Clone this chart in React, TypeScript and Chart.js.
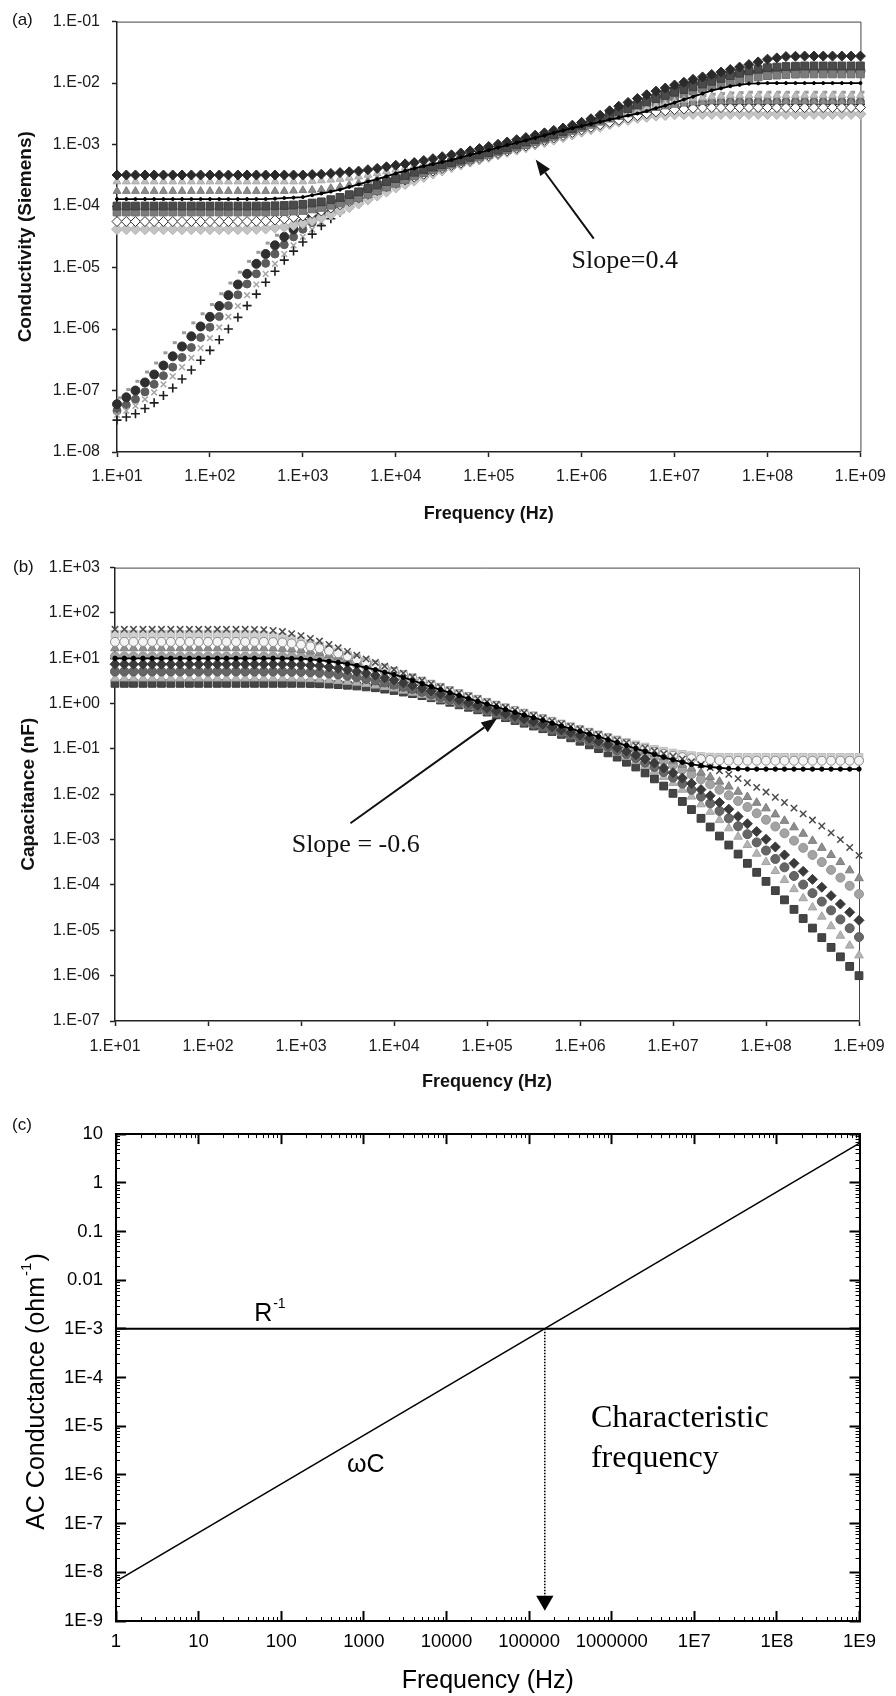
import React, { useEffect, useRef } from 'react';
import { Chart, registerables } from 'chart.js';

Chart.register(...registerables);

const SANS = "'Liberation Sans', Arial, Helvetica, sans-serif";
const SERIF = "'Liberation Serif', 'Times New Roman', Times, serif";

// ---------- shared frequency grid (Hz), panels (a) and (b): 10 points per decade ----------
const FREQ = [
  1e1, 1.26e1, 1.58e1, 2e1, 2.51e1, 3.16e1, 3.98e1, 5.01e1, 6.31e1, 7.94e1,
  1e2, 1.26e2, 1.58e2, 2e2, 2.51e2, 3.16e2, 3.98e2, 5.01e2, 6.31e2, 7.94e2,
  1e3, 1.26e3, 1.58e3, 2e3, 2.51e3, 3.16e3, 3.98e3, 5.01e3, 6.31e3, 7.94e3,
  1e4, 1.26e4, 1.58e4, 2e4, 2.51e4, 3.16e4, 3.98e4, 5.01e4, 6.31e4, 7.94e4,
  1e5, 1.26e5, 1.58e5, 2e5, 2.51e5, 3.16e5, 3.98e5, 5.01e5, 6.31e5, 7.94e5,
  1e6, 1.26e6, 1.58e6, 2e6, 2.51e6, 3.16e6, 3.98e6, 5.01e6, 6.31e6, 7.94e6,
  1e7, 1.26e7, 1.58e7, 2e7, 2.51e7, 3.16e7, 3.98e7, 5.01e7, 6.31e7, 7.94e7,
  1e8, 1.26e8, 1.58e8, 2e8, 2.51e8, 3.16e8, 3.98e8, 5.01e8, 6.31e8, 7.94e8,
  1e9,
];

// ---------- panel (a): conductivity (S) ----------
const A_X_TICKS = [1e1, 1e2, 1e3, 1e4, 1e5, 1e6, 1e7, 1e8, 1e9];
const A_X_LABELS = ['1.E+01', '1.E+02', '1.E+03', '1.E+04', '1.E+05', '1.E+06', '1.E+07', '1.E+08', '1.E+09'];
const A_Y_TICKS = [1e-8, 1e-7, 1e-6, 1e-5, 1e-4, 1e-3, 1e-2, 1e-1];
const A_Y_LABELS = ['1.E-08', '1.E-07', '1.E-06', '1.E-05', '1.E-04', '1.E-03', '1.E-02', '1.E-01'];

const COND_U1 = [
  3.2e-4, 3.2e-4, 3.2e-4, 3.2e-4, 3.2e-4, 3.2e-4, 3.2e-4, 3.2e-4, 3.2e-4, 3.2e-4,
  3.2e-4, 3.2e-4, 3.2e-4, 3.2e-4, 3.2e-4, 3.2e-4, 3.2e-4, 3.2e-4, 3.2e-4, 3.2e-4,
  3.2e-4, 3.25e-4, 3.3e-4, 3.4e-4, 3.5e-4, 3.6e-4, 3.7e-4, 3.9e-4, 4.1e-4, 4.35e-4,
  4.6e-4, 4.85e-4, 5.1e-4, 5.5e-4, 5.9e-4, 6.35e-4, 6.8e-4, 7.3e-4, 7.9e-4, 8.6e-4,
  9.3e-4, 1.01e-3, 1.1e-3, 1.2e-3, 1.3e-3, 1.42e-3, 1.55e-3, 1.7e-3, 1.86e-3, 2.07e-3,
  2.3e-3, 2.63e-3, 3.0e-3, 3.55e-3, 4.2e-3, 4.85e-3, 5.6e-3, 6.45e-3, 7.4e-3, 8.3e-3,
  9.3e-3, 1.03e-2, 1.15e-2, 1.26e-2, 1.38e-2, 1.51e-2, 1.66e-2, 1.82e-2, 2.0e-2, 2.21e-2,
  2.45e-2, 2.57e-2, 2.7e-2, 2.73e-2, 2.75e-2, 2.75e-2, 2.75e-2, 2.75e-2, 2.75e-2, 2.75e-2,
  2.75e-2,
];
const COND_U2 = [
  2.5e-4, 2.5e-4, 2.5e-4, 2.5e-4, 2.5e-4, 2.5e-4, 2.5e-4, 2.5e-4, 2.5e-4, 2.5e-4,
  2.5e-4, 2.5e-4, 2.5e-4, 2.5e-4, 2.5e-4, 2.5e-4, 2.5e-4, 2.5e-4, 2.5e-4, 2.5e-4,
  2.5e-4, 2.55e-4, 2.6e-4, 2.67e-4, 2.75e-4, 2.87e-4, 3.0e-4, 3.2e-4, 3.4e-4, 3.65e-4,
  3.9e-4, 4.2e-4, 4.5e-4, 4.85e-4, 5.2e-4, 5.7e-4, 6.2e-4, 6.7e-4, 7.2e-4, 7.8e-4,
  8.5e-4, 9.3e-4, 1.02e-3, 1.1e-3, 1.2e-3, 1.32e-3, 1.45e-3, 1.59e-3, 1.74e-3, 1.91e-3,
  2.1e-3, 2.3e-3, 2.5e-3, 2.75e-3, 3.0e-3, 3.3e-3, 3.6e-3, 3.95e-3, 4.3e-3, 4.65e-3,
  5.0e-3, 5.3e-3, 5.6e-3, 5.8e-3, 6.0e-3, 6.15e-3, 6.3e-3, 6.3e-3, 6.3e-3, 6.3e-3,
  6.3e-3, 6.3e-3, 6.3e-3, 6.3e-3, 6.3e-3, 6.3e-3, 6.3e-3, 6.3e-3, 6.3e-3, 6.3e-3,
  6.3e-3,
];
const COND_U3 = [
  1.75e-4, 1.75e-4, 1.75e-4, 1.75e-4, 1.75e-4, 1.75e-4, 1.75e-4, 1.75e-4, 1.75e-4, 1.75e-4,
  1.75e-4, 1.75e-4, 1.75e-4, 1.75e-4, 1.75e-4, 1.75e-4, 1.75e-4, 1.75e-4, 1.75e-4, 1.77e-4,
  1.8e-4, 1.82e-4, 1.85e-4, 1.95e-4, 2.05e-4, 2.2e-4, 2.35e-4, 2.55e-4, 2.75e-4, 3.0e-4,
  3.3e-4, 3.6e-4, 3.9e-4, 4.25e-4, 4.6e-4, 5.0e-4, 5.4e-4, 5.9e-4, 6.5e-4, 7.1e-4,
  7.8e-4, 8.5e-4, 9.3e-4, 1.02e-3, 1.12e-3, 1.23e-3, 1.35e-3, 1.48e-3, 1.62e-3, 1.78e-3,
  1.95e-3, 2.15e-3, 2.35e-3, 2.57e-3, 2.8e-3, 3.1e-3, 3.4e-3, 3.65e-3, 3.9e-3, 4.15e-3,
  4.4e-3, 4.6e-3, 4.8e-3, 4.9e-3, 5.0e-3, 5.0e-3, 5.0e-3, 5.0e-3, 5.0e-3, 5.0e-3,
  5.0e-3, 5.0e-3, 5.0e-3, 5.0e-3, 5.0e-3, 5.0e-3, 5.0e-3, 5.0e-3, 5.0e-3, 5.0e-3,
  5.0e-3,
];
const COND_U4 = [
  1.3e-4, 1.3e-4, 1.3e-4, 1.3e-4, 1.3e-4, 1.3e-4, 1.3e-4, 1.3e-4, 1.3e-4, 1.3e-4,
  1.3e-4, 1.3e-4, 1.3e-4, 1.3e-4, 1.3e-4, 1.3e-4, 1.3e-4, 1.32e-4, 1.35e-4, 1.37e-4,
  1.4e-4, 1.5e-4, 1.6e-4, 1.72e-4, 1.85e-4, 2.05e-4, 2.25e-4, 2.5e-4, 2.75e-4, 3.05e-4,
  3.4e-4, 3.75e-4, 4.1e-4, 4.45e-4, 4.8e-4, 5.2e-4, 5.6e-4, 6.2e-4, 6.8e-4, 7.4e-4,
  8.1e-4, 8.9e-4, 9.8e-4, 1.07e-3, 1.17e-3, 1.28e-3, 1.41e-3, 1.55e-3, 1.7e-3, 1.85e-3,
  2.0e-3, 2.17e-3, 2.35e-3, 2.55e-3, 2.75e-3, 2.97e-3, 3.2e-3, 3.5e-3, 3.9e-3, 4.3e-3,
  4.8e-3, 5.4e-3, 6.0e-3, 6.75e-3, 7.6e-3, 8.2e-3, 8.9e-3, 9.35e-3, 9.8e-3, 9.9e-3,
  1.0e-2, 1.0e-2, 1.0e-2, 1.0e-2, 1.0e-2, 1.0e-2, 1.0e-2, 1.0e-2, 1.0e-2, 1.0e-2,
  1.0e-2,
];
const COND_U5 = [
  1.0e-4, 1.0e-4, 1.0e-4, 1.0e-4, 1.0e-4, 1.0e-4, 1.0e-4, 1.0e-4, 1.0e-4, 1.0e-4,
  1.0e-4, 1.0e-4, 1.0e-4, 1.0e-4, 1.0e-4, 1.0e-4, 1.0e-4, 1.01e-4, 1.02e-4, 1.04e-4,
  1.07e-4, 1.12e-4, 1.17e-4, 1.27e-4, 1.38e-4, 1.53e-4, 1.7e-4, 1.93e-4, 2.2e-4, 2.5e-4,
  2.8e-4, 3.15e-4, 3.55e-4, 3.9e-4, 4.3e-4, 4.7e-4, 5.1e-4, 5.6e-4, 6.2e-4, 6.8e-4,
  7.4e-4, 8.1e-4, 8.9e-4, 9.9e-4, 1.1e-3, 1.2e-3, 1.32e-3, 1.46e-3, 1.62e-3, 1.82e-3,
  2.05e-3, 2.3e-3, 2.6e-3, 2.97e-3, 3.4e-3, 3.85e-3, 4.4e-3, 4.95e-3, 5.6e-3, 6.3e-3,
  7.1e-3, 7.85e-3, 8.7e-3, 9.65e-3, 1.07e-2, 1.19e-2, 1.32e-2, 1.45e-2, 1.58e-2, 1.68e-2,
  1.78e-2, 1.82e-2, 1.86e-2, 1.88e-2, 1.9e-2, 1.9e-2, 1.9e-2, 1.9e-2, 1.9e-2, 1.9e-2,
  1.9e-2,
];
const COND_U6 = [
  8.0e-5, 8.0e-5, 8.0e-5, 8.0e-5, 8.0e-5, 8.0e-5, 8.0e-5, 8.0e-5, 8.0e-5, 8.0e-5,
  8.0e-5, 8.0e-5, 8.0e-5, 8.0e-5, 8.0e-5, 8.0e-5, 8.0e-5, 8.05e-5, 8.1e-5, 8.3e-5,
  8.5e-5, 9.0e-5, 9.5e-5, 1.03e-4, 1.12e-4, 1.24e-4, 1.38e-4, 1.57e-4, 1.78e-4, 2.05e-4,
  2.35e-4, 2.7e-4, 3.1e-4, 3.5e-4, 3.9e-4, 4.3e-4, 4.8e-4, 5.25e-4, 5.75e-4, 6.3e-4,
  6.9e-4, 7.6e-4, 8.3e-4, 9.1e-4, 1.0e-3, 1.11e-3, 1.23e-3, 1.36e-3, 1.51e-3, 1.7e-3,
  1.9e-3, 2.13e-3, 2.4e-3, 2.7e-3, 3.0e-3, 3.4e-3, 3.8e-3, 4.3e-3, 4.8e-3, 5.4e-3,
  6.0e-3, 6.65e-3, 7.4e-3, 8.1e-3, 8.9e-3, 9.7e-3, 1.05e-2, 1.12e-2, 1.2e-2, 1.26e-2,
  1.32e-2, 1.35e-2, 1.38e-2, 1.4e-2, 1.41e-2, 1.41e-2, 1.41e-2, 1.41e-2, 1.41e-2, 1.41e-2,
  1.41e-2,
];
const COND_U7 = [
  5.6e-5, 5.6e-5, 5.6e-5, 5.6e-5, 5.6e-5, 5.6e-5, 5.6e-5, 5.6e-5, 5.6e-5, 5.6e-5,
  5.6e-5, 5.6e-5, 5.6e-5, 5.6e-5, 5.6e-5, 5.65e-5, 5.75e-5, 5.95e-5, 6.2e-5, 6.55e-5,
  6.9e-5, 7.6e-5, 8.3e-5, 9.3e-5, 1.05e-4, 1.19e-4, 1.35e-4, 1.55e-4, 1.78e-4, 2.05e-4,
  2.35e-4, 2.65e-4, 2.95e-4, 3.3e-4, 3.7e-4, 4.1e-4, 4.6e-4, 5.0e-4, 5.5e-4, 6.0e-4,
  6.6e-4, 7.2e-4, 7.9e-4, 8.7e-4, 9.5e-4, 1.05e-3, 1.17e-3, 1.28e-3, 1.41e-3, 1.57e-3,
  1.74e-3, 1.91e-3, 2.1e-3, 2.3e-3, 2.5e-3, 2.72e-3, 2.95e-3, 3.17e-3, 3.4e-3, 3.55e-3,
  3.7e-3, 3.8e-3, 3.9e-3, 3.95e-3, 4.0e-3, 4.0e-3, 4.0e-3, 4.0e-3, 4.0e-3, 4.0e-3,
  4.0e-3, 4.0e-3, 4.0e-3, 4.0e-3, 4.0e-3, 4.0e-3, 4.0e-3, 4.0e-3, 4.0e-3, 4.0e-3,
  4.0e-3,
];
const COND_U8 = [
  4.2e-5, 4.2e-5, 4.2e-5, 4.2e-5, 4.2e-5, 4.2e-5, 4.2e-5, 4.2e-5, 4.2e-5, 4.2e-5,
  4.2e-5, 4.2e-5, 4.2e-5, 4.2e-5, 4.2e-5, 4.25e-5, 4.3e-5, 4.45e-5, 4.6e-5, 4.9e-5,
  5.25e-5, 5.8e-5, 6.5e-5, 7.3e-5, 8.3e-5, 9.6e-5, 1.1e-4, 1.28e-4, 1.48e-4, 1.72e-4,
  2.0e-4, 2.28e-4, 2.6e-4, 2.97e-4, 3.4e-4, 3.8e-4, 4.3e-4, 4.75e-4, 5.25e-4, 5.75e-4,
  6.3e-4, 6.9e-4, 7.6e-4, 8.3e-4, 9.1e-4, 1.0e-3, 1.1e-3, 1.2e-3, 1.32e-3, 1.46e-3,
  1.62e-3, 1.78e-3, 1.95e-3, 2.14e-3, 2.35e-3, 2.52e-3, 2.7e-3, 2.82e-3, 2.95e-3, 3.02e-3,
  3.1e-3, 3.12e-3, 3.15e-3, 3.15e-3, 3.15e-3, 3.15e-3, 3.15e-3, 3.15e-3, 3.15e-3, 3.15e-3,
  3.15e-3, 3.15e-3, 3.15e-3, 3.15e-3, 3.15e-3, 3.15e-3, 3.15e-3, 3.15e-3, 3.15e-3, 3.15e-3,
  3.15e-3,
];
const COND_L1 = [
  7.6e-8, 1.04e-7, 1.41e-7, 2.0e-7, 2.8e-7, 4.1e-7, 6.0e-7, 8.7e-7, 1.26e-6, 1.77e-6,
  2.5e-6, 3.75e-6, 5.6e-6, 8.4e-6, 1.26e-5, 1.77e-5, 2.5e-5, 3.35e-5, 4.5e-5, 5.65e-5,
  7.1e-5, 8.6e-5, 1.05e-4, 1.23e-4, 1.45e-4, 1.66e-4, 1.9e-4, 2.14e-4, 2.4e-4, 2.7e-4,
  3.0e-4, 3.3e-4, 3.6e-4, 4.0e-4, 4.4e-4, 4.8e-4, 5.25e-4, 5.75e-4, 6.3e-4, 6.9e-4,
  7.6e-4, 8.3e-4, 9.1e-4, 1.0e-3, 1.1e-3, 1.2e-3, 1.32e-3, 1.45e-3, 1.58e-3, 1.73e-3,
  1.9e-3, 2.1e-3, 2.3e-3, 2.5e-3, 2.75e-3, 3.05e-3, 3.4e-3, 3.8e-3, 4.2e-3, 4.6e-3,
  5.0e-3, 5.45e-3, 5.9e-3, 6.25e-3, 6.6e-3, 6.75e-3, 6.9e-3, 7.0e-3, 7.1e-3, 7.1e-3,
  7.1e-3, 7.1e-3, 7.1e-3, 7.1e-3, 7.1e-3, 7.1e-3, 7.1e-3, 7.1e-3, 7.1e-3, 7.1e-3,
  7.1e-3,
];
const COND_L2 = [
  6.0e-8, 7.75e-8, 1.0e-7, 1.35e-7, 1.82e-7, 2.55e-7, 3.6e-7, 5.2e-7, 7.6e-7, 1.1e-6,
  1.58e-6, 2.37e-6, 3.55e-6, 5.3e-6, 7.9e-6, 1.15e-5, 1.66e-5, 2.3e-5, 3.16e-5, 4.15e-5,
  5.4e-5, 6.7e-5, 8.3e-5, 1.0e-4, 1.2e-4, 1.4e-4, 1.62e-4, 1.87e-4, 2.15e-4, 2.4e-4,
  2.7e-4, 3.0e-4, 3.3e-4, 3.7e-4, 4.1e-4, 4.5e-4, 5.0e-4, 5.5e-4, 6.0e-4, 6.6e-4,
  7.2e-4, 7.9e-4, 8.7e-4, 9.6e-4, 1.07e-3, 1.19e-3, 1.32e-3, 1.46e-3, 1.62e-3, 1.82e-3,
  2.05e-3, 2.3e-3, 2.6e-3, 3.0e-3, 3.5e-3, 4.0e-3, 4.6e-3, 5.25e-3, 6.0e-3, 6.85e-3,
  7.8e-3, 8.75e-3, 9.8e-3, 1.07e-2, 1.17e-2, 1.27e-2, 1.38e-2, 1.44e-2, 1.51e-2, 1.55e-2,
  1.58e-2, 1.58e-2, 1.58e-2, 1.58e-2, 1.58e-2, 1.58e-2, 1.58e-2, 1.58e-2, 1.58e-2, 1.58e-2,
  1.58e-2,
];
const COND_L3 = [
  4.7e-8, 5.8e-8, 7.2e-8, 9.5e-8, 1.26e-7, 1.74e-7, 2.4e-7, 3.45e-7, 5.0e-7, 7.3e-7,
  1.07e-6, 1.6e-6, 2.4e-6, 3.6e-6, 5.4e-6, 7.9e-6, 1.17e-5, 1.66e-5, 2.35e-5, 3.15e-5,
  4.2e-5, 5.35e-5, 6.8e-5, 8.3e-5, 1.02e-4, 1.22e-4, 1.45e-4, 1.66e-4, 1.9e-4, 2.15e-4,
  2.45e-4, 2.75e-4, 3.1e-4, 3.45e-4, 3.8e-4, 4.2e-4, 4.7e-4, 5.15e-4, 5.6e-4, 6.2e-4,
  6.8e-4, 7.4e-4, 8.1e-4, 8.9e-4, 9.8e-4, 1.08e-3, 1.2e-3, 1.32e-3, 1.45e-3, 1.6e-3,
  1.78e-3, 1.95e-3, 2.15e-3, 2.37e-3, 2.6e-3, 2.87e-3, 3.16e-3, 3.47e-3, 3.8e-3, 4.1e-3,
  4.4e-3, 4.6e-3, 4.8e-3, 4.9e-3, 5.0e-3, 5.0e-3, 5.0e-3, 5.0e-3, 5.0e-3, 5.0e-3,
  5.0e-3, 5.0e-3, 5.0e-3, 5.0e-3, 5.0e-3, 5.0e-3, 5.0e-3, 5.0e-3, 5.0e-3, 5.0e-3,
  5.0e-3,
];
const COND_L4 = [
  4.0e-8, 4.7e-8, 5.6e-8, 7.2e-8, 9.3e-8, 1.26e-7, 1.7e-7, 2.4e-7, 3.4e-7, 4.9e-7,
  7.1e-7, 1.06e-6, 1.58e-6, 2.37e-6, 3.55e-6, 5.3e-6, 7.9e-6, 1.15e-5, 1.66e-5, 2.3e-5,
  3.16e-5, 4.15e-5, 5.5e-5, 6.9e-5, 8.7e-5, 1.05e-4, 1.26e-4, 1.46e-4, 1.7e-4, 1.95e-4,
  2.25e-4, 2.5e-4, 2.8e-4, 3.15e-4, 3.55e-4, 3.95e-4, 4.4e-4, 4.9e-4, 5.4e-4, 5.9e-4,
  6.5e-4, 7.1e-4, 7.8e-4, 8.5e-4, 9.3e-4, 1.02e-3, 1.12e-3, 1.24e-3, 1.38e-3, 1.51e-3,
  1.66e-3, 1.82e-3, 2.0e-3, 2.2e-3, 2.4e-3, 2.6e-3, 2.8e-3, 3.0e-3, 3.2e-3, 3.35e-3,
  3.5e-3, 3.52e-3, 3.55e-3, 3.55e-3, 3.55e-3, 3.55e-3, 3.55e-3, 3.55e-3, 3.55e-3, 3.55e-3,
  3.55e-3, 3.55e-3, 3.55e-3, 3.55e-3, 3.55e-3, 3.55e-3, 3.55e-3, 3.55e-3, 3.55e-3, 3.55e-3,
  3.55e-3,
];
const COND_L5 = [
  3.3e-8, 3.7e-8, 4.2e-8, 5.1e-8, 6.3e-8, 8.3e-8, 1.1e-7, 1.54e-7, 2.15e-7, 3.1e-7,
  4.5e-7, 6.7e-7, 1.0e-6, 1.55e-6, 2.4e-6, 3.7e-6, 5.75e-6, 8.7e-6, 1.32e-5, 1.85e-5,
  2.6e-5, 3.5e-5, 4.8e-5, 6.2e-5, 7.9e-5, 9.6e-5, 1.17e-4, 1.36e-4, 1.58e-4, 1.82e-4,
  2.1e-4, 2.35e-4, 2.6e-4, 2.95e-4, 3.3e-4, 3.7e-4, 4.2e-4, 4.65e-4, 5.1e-4, 5.6e-4,
  6.2e-4, 6.8e-4, 7.4e-4, 8.1e-4, 8.9e-4, 9.8e-4, 1.07e-3, 1.19e-3, 1.32e-3, 1.45e-3,
  1.58e-3, 1.75e-3, 1.95e-3, 2.15e-3, 2.35e-3, 2.57e-3, 2.8e-3, 3.1e-3, 3.4e-3, 3.65e-3,
  3.9e-3, 4.1e-3, 4.3e-3, 4.4e-3, 4.5e-3, 4.5e-3, 4.5e-3, 4.5e-3, 4.5e-3, 4.5e-3,
  4.5e-3, 4.5e-3, 4.5e-3, 4.5e-3, 4.5e-3, 4.5e-3, 4.5e-3, 4.5e-3, 4.5e-3, 4.5e-3,
  4.5e-3,
];

// annotation anchors (data space) for panel (a)
const A_SLOPE_ARROW = [[1.35e6, 2.95e-5], [3.2e5, 5.7e-4]];
const A_SLOPE_TEXT = [7.8e5, 1.26e-5];

// ---------- panel (b): capacitance (nF) ----------
const B_Y_TICKS = [1e-7, 1e-6, 1e-5, 1e-4, 1e-3, 1e-2, 1e-1, 1e0, 1e1, 1e2, 1e3];
const B_Y_LABELS = ['1.E-07', '1.E-06', '1.E-05', '1.E-04', '1.E-03', '1.E-02', '1.E-01', '1.E+00', '1.E+01', '1.E+02', '1.E+03'];

const CAP_B1 = [
  43.6, 43.6, 43.6, 43.6, 43.6, 43.6, 43.6, 43.6, 43.6, 43.6,
  43.6, 43.6, 43.6, 43.6, 43.6, 43.3, 42.7, 41, 38.9, 35,
  31.6, 27.5, 24, 20.2, 17, 14.1, 11.7, 9.7, 8.1, 6.7,
  5.6, 4.7, 3.9, 3.27, 2.75, 2.35, 2.0, 1.72, 1.48, 1.28,
  1.1, 0.955, 0.83, 0.72, 0.63, 0.55, 0.48, 0.415, 0.36, 0.315,
  0.275, 0.24, 0.21, 0.182, 0.158, 0.138, 0.12, 0.105, 0.091, 0.079,
  0.069, 0.06, 0.052, 0.045, 0.039, 0.033, 0.0275, 0.0222, 0.018, 0.0142,
  0.0112, 8.6e-3, 6.6e-3, 4.95e-3, 3.7e-3, 2.7e-3, 2.0e-3, 1.41e-3, 1.0e-3, 6.7e-4,
  4.5e-4,
];
const CAP_B2 = [
  34, 34, 34, 34, 34, 34, 34, 34, 34, 34,
  34, 34, 34, 34, 34, 33, 32, 30.5, 29, 26.5,
  24, 21.1, 18.6, 16, 13.8, 11.7, 10, 8.5, 7.2, 6.05,
  5.1, 4.35, 3.7, 3.15, 2.7, 2.3, 1.95, 1.68, 1.45, 1.25,
  1.07, 0.93, 0.81, 0.71, 0.62, 0.54, 0.47, 0.41, 0.355, 0.31,
  0.27, 0.235, 0.204, 0.18, 0.158, 0.139, 0.123, 0.11, 0.098, 0.089,
  0.081, 0.076, 0.071, 0.068, 0.066, 0.0655, 0.065, 0.065, 0.065, 0.065,
  0.065, 0.065, 0.065, 0.065, 0.065, 0.065, 0.065, 0.065, 0.065, 0.065,
  0.065,
];
const CAP_B3 = [
  23, 23, 23, 23, 23, 23, 23, 23, 23, 23,
  23, 23, 23, 23, 23, 23, 23, 22.8, 22.4, 21.3,
  20, 18.3, 16.6, 14.6, 12.9, 11.1, 9.5, 8.1, 6.9, 5.9,
  5.0, 4.2, 3.55, 3.0, 2.57, 2.18, 1.86, 1.6, 1.38, 1.19,
  1.02, 0.89, 0.78, 0.68, 0.59, 0.515, 0.45, 0.39, 0.34, 0.295,
  0.257, 0.224, 0.195, 0.17, 0.148, 0.129, 0.112, 0.099, 0.087, 0.078,
  0.071, 0.066, 0.062, 0.0597, 0.0575, 0.0562, 0.055, 0.055, 0.055, 0.055,
  0.055, 0.055, 0.055, 0.055, 0.055, 0.055, 0.055, 0.055, 0.055, 0.055,
  0.055,
];
const CAP_B4 = [
  16.6, 16.6, 16.6, 16.6, 16.6, 16.6, 16.6, 16.6, 16.6, 16.6,
  16.6, 16.6, 16.6, 16.6, 16.6, 16.6, 16.6, 16.4, 16.2, 15.7,
  15.1, 14.2, 13.2, 11.9, 10.7, 9.4, 8.3, 7.2, 6.3, 5.45,
  4.7, 4.0, 3.4, 2.9, 2.45, 2.08, 1.78, 1.53, 1.32, 1.14,
  0.98, 0.85, 0.74, 0.64, 0.56, 0.49, 0.43, 0.37, 0.32, 0.28,
  0.245, 0.215, 0.19, 0.166, 0.145, 0.125, 0.107, 0.091, 0.078, 0.066,
  0.055, 0.045, 0.037, 0.03, 0.024, 0.019, 0.0148, 0.0114, 8.7e-3, 6.5e-3,
  4.9e-3, 3.6e-3, 2.6e-3, 1.87e-3, 1.35e-3, 9.4e-4, 6.6e-4, 4.6e-4, 3.2e-4, 2.1e-4,
  1.41e-4,
];
const CAP_B5 = [
  11, 11, 11, 11, 11, 11, 11, 11, 11, 11,
  11, 11, 11, 11, 11, 11, 11, 11, 11, 10.85,
  10.7, 10.35, 10, 9.45, 8.9, 8.1, 7.4, 6.6, 5.9, 5.15,
  4.5, 3.8, 3.2, 2.75, 2.35, 2.0, 1.7, 1.46, 1.26, 1.08,
  0.93, 0.81, 0.71, 0.62, 0.54, 0.47, 0.41, 0.355, 0.31, 0.27,
  0.234, 0.204, 0.178, 0.153, 0.132, 0.112, 0.095, 0.079, 0.066, 0.054,
  0.044, 0.035, 0.0275, 0.0214, 0.0166, 0.0126, 9.5e-3, 7.1e-3, 5.25e-3, 3.8e-3,
  2.75e-3, 1.95e-3, 1.38e-3, 9.5e-4, 6.6e-4, 4.6e-4, 3.2e-4, 2.15e-4, 1.45e-4, 9.6e-5,
  6.3e-5,
];
const CAP_B6 = [
  10, 10, 10, 10, 10, 10, 10, 10, 10, 10,
  10, 10, 10, 10, 10, 10, 10, 10, 10, 9.9,
  9.8, 9.45, 9.1, 8.6, 8.1, 7.5, 6.9, 6.2, 5.6, 4.95,
  4.4, 3.8, 3.24, 2.75, 2.35, 2.02, 1.74, 1.5, 1.29, 1.12,
  0.98, 0.85, 0.74, 0.64, 0.56, 0.49, 0.43, 0.37, 0.32, 0.28,
  0.245, 0.213, 0.186, 0.16, 0.138, 0.119, 0.102, 0.088, 0.076, 0.066,
  0.0575, 0.051, 0.0457, 0.0428, 0.04, 0.0385, 0.037, 0.0365, 0.036, 0.036,
  0.036, 0.036, 0.036, 0.036, 0.036, 0.036, 0.036, 0.036, 0.036, 0.036,
  0.036,
];
const CAP_B7 = [
  7.4, 7.4, 7.4, 7.4, 7.4, 7.4, 7.4, 7.4, 7.4, 7.4,
  7.4, 7.4, 7.4, 7.4, 7.4, 7.4, 7.4, 7.4, 7.4, 7.3,
  7.2, 7.0, 6.8, 6.4, 6.0, 5.55, 5.1, 4.65, 4.2, 3.7,
  3.3, 2.87, 2.5, 2.18, 1.9, 1.64, 1.41, 1.22, 1.05, 0.91,
  0.79, 0.69, 0.6, 0.525, 0.46, 0.4, 0.35, 0.305, 0.263, 0.23,
  0.2, 0.172, 0.148, 0.126, 0.107, 0.089, 0.074, 0.06, 0.049, 0.038,
  0.03, 0.0228, 0.0174, 0.0127, 9.3e-3, 6.6e-3, 4.7e-3, 3.25e-3, 2.24e-3, 1.51e-3,
  1.02e-3, 6.9e-4, 4.6e-4, 3.0e-4, 2.0e-4, 1.33e-4, 8.9e-5, 5.8e-5, 3.8e-5, 2.5e-5,
  1.66e-5,
];
const CAP_B8 = [
  5.1, 5.1, 5.1, 5.1, 5.1, 5.1, 5.1, 5.1, 5.1, 5.1,
  5.1, 5.1, 5.1, 5.1, 5.1, 5.1, 5.1, 5.1, 5.1, 5.05,
  5.0, 4.9, 4.8, 4.6, 4.4, 4.1, 3.8, 3.5, 3.24, 2.92,
  2.63, 2.35, 2.1, 1.82, 1.58, 1.38, 1.2, 1.05, 0.91, 0.79,
  0.69, 0.6, 0.52, 0.455, 0.4, 0.345, 0.3, 0.263, 0.23, 0.2,
  0.174, 0.15, 0.129, 0.11, 0.093, 0.077, 0.063, 0.05, 0.04, 0.031,
  0.0234, 0.0172, 0.0126, 8.9e-3, 6.3e-3, 4.3e-3, 2.95e-3, 1.97e-3, 1.32e-3, 8.7e-4,
  5.75e-4, 3.75e-4, 2.45e-4, 1.58e-4, 1.02e-4, 6.6e-5, 4.3e-5, 2.75e-5, 1.74e-5, 1.11e-5,
  7.1e-6,
];
const CAP_B9 = [
  3.6, 3.6, 3.6, 3.6, 3.6, 3.6, 3.6, 3.6, 3.6, 3.6,
  3.6, 3.6, 3.6, 3.6, 3.6, 3.6, 3.6, 3.6, 3.6, 3.58,
  3.55, 3.48, 3.4, 3.28, 3.16, 3.03, 2.9, 2.7, 2.5, 2.32,
  2.15, 1.93, 1.74, 1.55, 1.38, 1.23, 1.1, 0.97, 0.85, 0.75,
  0.66, 0.58, 0.51, 0.445, 0.39, 0.34, 0.295, 0.257, 0.224, 0.193,
  0.166, 0.141, 0.12, 0.1, 0.083, 0.067, 0.054, 0.042, 0.032, 0.024,
  0.0178, 0.0126, 8.9e-3, 6.0e-3, 4.1e-3, 2.7e-3, 1.78e-3, 1.16e-3, 7.6e-4, 4.9e-4,
  3.2e-4, 2.03e-4, 1.29e-4, 8.1e-5, 5.1e-5, 3.2e-5, 2.0e-5, 1.23e-5, 7.6e-6, 4.6e-6,
  2.8e-6,
];
const CAP_B10 = [
  2.8, 2.8, 2.8, 2.8, 2.8, 2.8, 2.8, 2.8, 2.8, 2.8,
  2.8, 2.8, 2.8, 2.8, 2.8, 2.8, 2.8, 2.8, 2.8, 2.8,
  2.8, 2.78, 2.75, 2.69, 2.63, 2.54, 2.45, 2.34, 2.24, 2.09,
  1.95, 1.8, 1.66, 1.5, 1.35, 1.2, 1.07, 0.94, 0.83, 0.73,
  0.65, 0.565, 0.49, 0.425, 0.37, 0.32, 0.28, 0.243, 0.21, 0.176,
  0.148, 0.123, 0.102, 0.082, 0.066, 0.051, 0.04, 0.0296, 0.0219, 0.0152,
  0.0105, 6.95e-3, 4.6e-3, 2.95e-3, 1.9e-3, 1.2e-3, 7.6e-4, 4.8e-4, 3.0e-4, 1.9e-4,
  1.2e-4, 7.5e-5, 4.7e-5, 2.9e-5, 1.82e-5, 1.12e-5, 6.9e-6, 4.2e-6, 2.6e-6, 1.6e-6,
  1.0e-6,
];

const B_SLOPE_ARROW = [[3.4e3, 2.3e-3], [1.29e5, 0.48]];
const B_SLOPE_TEXT = [794, 7.4e-4];

// ---------- panel (c): AC conductance model ----------
const C_X_TICKS = [1, 1e1, 1e2, 1e3, 1e4, 1e5, 1e6, 1e7, 1e8, 1e9];
const C_X_LABELS = ['1', '10', '100', '1000', '10000', '100000', '1000000', '1E7', '1E8', '1E9'];
const C_Y_TICKS = [1e-9, 1e-8, 1e-7, 1e-6, 1e-5, 1e-4, 1e-3, 1e-2, 1e-1, 1, 10];
const C_Y_LABELS = ['1E-9', '1E-8', '1E-7', '1E-6', '1E-5', '1E-4', '1E-3', '0.01', '0.1', '1', '10'];
const C_FREQ_SPAN = [1, 1e9];
const C_OMEGA_C = [6.5e-9, 6.5];
const C_R_INV = [1e-3, 1e-3];
const C_CHAR_FREQ = [1.55e5, 1.55e5];
const C_CHAR_DROP = [1e-3, 3.2e-9];
const C_ARROW_TIP = [1.55e5, 2.6e-9];
const C_R_LABEL = [47, 2.0e-3];
const C_WC_LABEL = [624, 1.6e-6];
const C_CHAR_LABEL1 = [5.6e5, 1.45e-5];
const C_CHAR_LABEL2 = [5.6e5, 2.2e-6];

// ---------- helpers ----------
function markerSet(vals, s) {
  return {
    data: FREQ.map((f, i) => ({ x: f, y: vals[i] })),
    showLine: !!s.line,
    borderColor: s.stroke,
    borderWidth: s.line || 0,
    backgroundColor: s.fill,
    pointStyle: s.shape,
    pointRadius: s.r,
    pointBackgroundColor: s.fill,
    pointBorderColor: s.stroke,
    pointBorderWidth: s.bw,
    clip: false,
    tension: 0,
  };
}

function drawArrow(ctx, x1, y1, x2, y2, head, halfW, lw, color) {
  ctx.save();
  ctx.strokeStyle = color;
  ctx.fillStyle = color;
  ctx.lineWidth = lw;
  const ang = Math.atan2(y2 - y1, x2 - x1);
  const bx = x2 - Math.cos(ang) * head;
  const by = y2 - Math.sin(ang) * head;
  ctx.beginPath();
  ctx.moveTo(x1, y1);
  ctx.lineTo(bx, by);
  ctx.stroke();
  ctx.beginPath();
  ctx.moveTo(x2, y2);
  ctx.lineTo(bx + Math.sin(ang) * halfW, by - Math.cos(ang) * halfW);
  ctx.lineTo(bx - Math.sin(ang) * halfW, by + Math.cos(ang) * halfW);
  ctx.closePath();
  ctx.fill();
  ctx.restore();
}

function drawNote(chart, n) {
  const { ctx } = chart;
  const px = chart.scales.x.getPixelForValue(n.at[0]);
  const py = chart.scales.y.getPixelForValue(n.at[1]);
  ctx.save();
  ctx.font = n.font;
  ctx.fillStyle = n.color || '#000';
  ctx.textAlign = 'left';
  ctx.textBaseline = 'middle';
  ctx.fillText(n.text, px, py);
  if (n.sup) {
    const w = ctx.measureText(n.text).width;
    ctx.font = n.supFont;
    ctx.fillText(n.sup, px + w + 1, py - 10);
  }
  ctx.restore();
}

function overlay(spec) {
  return {
    id: 'overlay',
    beforeDatasetsDraw(chart) {
      if (!spec.frame) return;
      const { ctx, chartArea: a } = chart;
      ctx.save();
      ctx.strokeStyle = spec.frame;
      ctx.lineWidth = 1;
      ctx.beginPath();
      ctx.moveTo(a.left, a.top + 0.5);
      ctx.lineTo(a.right + 0.5, a.top + 0.5);
      ctx.lineTo(a.right + 0.5, a.bottom);
      ctx.stroke();
      ctx.restore();
    },
    afterDatasetsDraw(chart) {
      const { ctx } = chart;
      const xs = chart.scales.x;
      const ys = chart.scales.y;
      (spec.arrows || []).forEach((ar) => {
        drawArrow(
          ctx,
          xs.getPixelForValue(ar.pts[0][0]), ys.getPixelForValue(ar.pts[0][1]),
          xs.getPixelForValue(ar.pts[1][0]), ys.getPixelForValue(ar.pts[1][1]),
          ar.head, ar.halfW, ar.lw, '#111'
        );
      });
      (spec.notes || []).forEach((n) => drawNote(chart, n));
      if (spec.after) spec.after(chart);
      if (spec.label) {
        ctx.save();
        ctx.font = `17px ${SANS}`;
        ctx.fillStyle = '#111';
        ctx.textAlign = 'left';
        ctx.textBaseline = 'middle';
        ctx.fillText(spec.label.text, spec.label.x, spec.label.y);
        ctx.restore();
      }
    },
  };
}

function logTicks(values) {
  return (s) => {
    s.ticks = values.map((v) => ({ value: v }));
  };
}

function excelPanel(p) {
  return {
    type: 'scatter',
    data: { datasets: p.datasets },
    options: {
      responsive: false,
      animation: false,
      devicePixelRatio: 1,
      events: [],
      layout: { padding: p.padding },
      plugins: { legend: { display: false }, tooltip: { enabled: false }, title: { display: false } },
      scales: {
        x: {
          type: 'logarithmic',
          position: 'bottom',
          min: p.xTicks[0],
          max: p.xTicks[p.xTicks.length - 1],
          afterBuildTicks: logTicks(p.xTicks),
          afterFit: (s) => { s.height = p.xHeight; },
          ticks: {
            autoSkip: false, maxRotation: 0, minRotation: 0, padding: p.xTickPad, color: '#1a1a1a',
            font: { family: SANS, size: 16 },
            callback: (_v, i) => p.xLabels[i],
          },
          grid: { drawOnChartArea: false, drawTicks: true, tickLength: 5, tickColor: '#222', tickWidth: 1.5 },
          border: { display: true, color: '#222', width: 1.5 },
          title: {
            display: true, text: 'Frequency (Hz)', color: '#111',
            font: { family: SANS, size: 18, weight: 'bold' },
            padding: { top: 0, bottom: p.xTitlePad },
          },
        },
        y: {
          type: 'logarithmic',
          position: 'left',
          min: p.yTicks[0],
          max: p.yTicks[p.yTicks.length - 1],
          afterBuildTicks: logTicks(p.yTicks),
          afterFit: (s) => { s.width = p.yWidth; },
          ticks: {
            autoSkip: false, padding: p.yTickPad, color: '#1a1a1a',
            font: { family: SANS, size: 16 },
            callback: (_v, i) => p.yLabels[i],
          },
          grid: { drawOnChartArea: false, drawTicks: true, tickLength: 5, tickColor: '#222', tickWidth: 1.5 },
          border: { display: true, color: '#222', width: 1.5 },
          title: {
            display: true, text: p.yTitle, color: '#111',
            font: { family: SANS, size: 19, weight: 'bold' },
            padding: { top: p.yTitlePad, bottom: 0 },
          },
        },
      },
    },
    plugins: [overlay(p.overlay)],
  };
}

function buildPanelA() {
  const sets = [
    markerSet(COND_U4, { shape: 'circle', r: 1.5, fill: '#000', stroke: '#000', bw: 1, line: 1.8 }),
    markerSet(COND_U1, { shape: 'rectRot', r: 5, fill: '#2a2a2a', stroke: '#2a2a2a', bw: 1 }),
    markerSet(COND_U5, { shape: 'rect', r: 5.5, fill: '#4a4a4a', stroke: '#3e3e3e', bw: 1 }),
    markerSet(COND_U2, { shape: 'triangle', r: 4.5, fill: '#bdbdbd', stroke: '#a8a8a8', bw: 1 }),
    markerSet(COND_U3, { shape: 'triangle', r: 4.5, fill: '#8a8a8a', stroke: '#7a7a7a', bw: 1 }),
    markerSet(COND_U6, { shape: 'rect', r: 5.5, fill: '#7c7c7c', stroke: '#6c6c6c', bw: 1 }),
    markerSet(COND_U7, { shape: 'rectRot', r: 5, fill: '#ffffff', stroke: '#333', bw: 1 }),
    markerSet(COND_U8, { shape: 'rectRot', r: 5.5, fill: '#c4c4c4', stroke: '#b4b4b4', bw: 1 }),
    markerSet(COND_L5, { shape: 'cross', r: 4.5, fill: '#1e1e1e', stroke: '#1e1e1e', bw: 1.6 }),
    markerSet(COND_L4, { shape: 'crossRot', r: 4, fill: '#a5a5a5', stroke: '#a5a5a5', bw: 1.5 }),
    markerSet(COND_L2, { shape: 'circle', r: 4.5, fill: '#2f2f2f', stroke: '#2f2f2f', bw: 1 }),
    markerSet(COND_L3, { shape: 'circle', r: 4, fill: '#5c5c5c', stroke: '#5c5c5c', bw: 1 }),
    markerSet(COND_L1, { shape: 'dash', r: 4, fill: '#9a9a9a', stroke: '#9a9a9a', bw: 3 }),
  ];
  return excelPanel({
    datasets: sets,
    padding: { top: 18, right: 30, left: 0, bottom: 0 },
    xTicks: A_X_TICKS, xLabels: A_X_LABELS, yTicks: A_Y_TICKS, yLabels: A_Y_LABELS,
    xHeight: 93, yWidth: 117, xTickPad: 10, yTickPad: 12, xTitlePad: 20, yTitlePad: 14,
    yTitle: 'Conductivity (Siemens)',
    overlay: {
      frame: '#444',
      arrows: [{ pts: A_SLOPE_ARROW, head: 16, halfW: 6, lw: 2 }],
      notes: [{ text: 'Slope=0.4', at: A_SLOPE_TEXT, font: `26px ${SERIF}`, color: '#111' }],
      label: { text: '(a)', x: 12, y: 20 },
    },
  });
}

function buildPanelB() {
  const sets = [
    markerSet(CAP_B6, { shape: 'circle', r: 2.2, fill: '#000', stroke: '#000', bw: 1, line: 1.8 }),
    markerSet(CAP_B1, { shape: 'crossRot', r: 4.5, fill: '#4a4a4a', stroke: '#4a4a4a', bw: 1.5 }),
    markerSet(CAP_B7, { shape: 'rectRot', r: 5, fill: '#3a3a3a', stroke: '#3a3a3a', bw: 1 }),
    markerSet(CAP_B3, { shape: 'circle', r: 4.5, fill: '#f4f4f4', stroke: '#8a8a8a', bw: 1 }),
    markerSet(CAP_B2, { shape: 'rect', r: 5.5, fill: '#cfcfcf', stroke: '#bdbdbd', bw: 1 }),
    markerSet(CAP_B4, { shape: 'triangle', r: 5, fill: '#8d8d8d', stroke: '#7d7d7d', bw: 1 }),
    markerSet(CAP_B5, { shape: 'circle', r: 4.5, fill: '#a3a3a3', stroke: '#939393', bw: 1 }),
    markerSet(CAP_B8, { shape: 'circle', r: 4.5, fill: '#666', stroke: '#5a5a5a', bw: 1 }),
    markerSet(CAP_B9, { shape: 'triangle', r: 5, fill: '#b4b4b4', stroke: '#a4a4a4', bw: 1 }),
    markerSet(CAP_B10, { shape: 'rect', r: 5.5, fill: '#454545', stroke: '#3a3a3a', bw: 1 }),
  ];
  return excelPanel({
    datasets: sets,
    padding: { top: 18, right: 37, left: 0, bottom: 0 },
    xTicks: A_X_TICKS, xLabels: A_X_LABELS, yTicks: B_Y_TICKS, yLabels: B_Y_LABELS,
    xHeight: 79, yWidth: 115, xTickPad: 11, yTickPad: 10, xTitlePad: 7, yTitlePad: 17,
    yTitle: 'Capacitance (nF)',
    overlay: {
      frame: '#444',
      arrows: [{ pts: B_SLOPE_ARROW, head: 16, halfW: 6, lw: 2 }],
      notes: [{ text: 'Slope = -0.6', at: B_SLOPE_TEXT, font: `26px ${SERIF}`, color: '#111' }],
      label: { text: '(b)', x: 13, y: 19 },
    },
  });
}

function buildPanelC() {
  const line = (xs, ys, width, dash) => ({
    data: xs.map((x, i) => ({ x, y: ys[i] })),
    showLine: true,
    borderColor: '#000',
    borderWidth: width,
    borderDash: dash || [],
    pointRadius: 0,
    clip: true,
  });
  const mirror = (pos, ticks) => ({
    type: 'logarithmic',
    position: pos,
    min: ticks[0],
    max: ticks[ticks.length - 1],
    afterBuildTicks: logTicks(ticks),
    afterFit: (s) => { if (pos === 'top') s.height = 0; else s.width = 0; },
    ticks: { display: false },
    grid: { drawOnChartArea: false, drawTicks: true, tickLength: -10, tickColor: '#000', tickWidth: 2 },
    border: { display: true, color: '#000', width: 2 },
  });
  const minorTicks = (chart) => {
    const { ctx, chartArea: a } = chart;
    const xs = chart.scales.x;
    const ys = chart.scales.y;
    ctx.save();
    ctx.strokeStyle = '#000';
    ctx.lineWidth = 1;
    ctx.beginPath();
    for (let e = 0; e < 9; e++) {
      for (let m = 2; m <= 9; m++) {
        const px = Math.round(xs.getPixelForValue(m * Math.pow(10, e))) + 0.5;
        ctx.moveTo(px, a.bottom); ctx.lineTo(px, a.bottom - 4);
        ctx.moveTo(px, a.top); ctx.lineTo(px, a.top + 4);
      }
    }
    for (let e = -9; e < 1; e++) {
      for (let m = 2; m <= 9; m++) {
        const py = Math.round(ys.getPixelForValue(m * Math.pow(10, e))) + 0.5;
        ctx.moveTo(a.left, py); ctx.lineTo(a.left + 4, py);
        ctx.moveTo(a.right, py); ctx.lineTo(a.right - 4, py);
      }
    }
    ctx.stroke();
    ctx.restore();
    // y axis title with superscript
    const cy = (a.top + a.bottom) / 2 + 14;
    ctx.save();
    ctx.translate(37, cy);
    ctx.rotate(-Math.PI / 2);
    ctx.fillStyle = '#000';
    ctx.textBaseline = 'middle';
    ctx.textAlign = 'left';
    const big = `25px ${SANS}`;
    const small = `15px ${SANS}`;
    ctx.font = big;
    const w1 = ctx.measureText('AC Conductance (ohm').width;
    const w3 = ctx.measureText(')').width;
    ctx.font = small;
    const w2 = ctx.measureText('-1').width;
    const x0 = -(w1 + w2 + w3 + 2) / 2;
    ctx.font = big;
    ctx.fillText('AC Conductance (ohm', x0, 0);
    ctx.fillText(')', x0 + w1 + w2 + 2, 0);
    ctx.font = small;
    ctx.fillText('-1', x0 + w1 + 1, -10);
    ctx.restore();
  };
  return {
    type: 'scatter',
    data: {
      datasets: [
        line(C_FREQ_SPAN, C_OMEGA_C, 1.5),
        line(C_FREQ_SPAN, C_R_INV, 2),
        line(C_CHAR_FREQ, C_CHAR_DROP, 1.6, [1.5, 1.5]),
        {
          data: [{ x: C_ARROW_TIP[0], y: C_ARROW_TIP[1] }],
          showLine: false,
          pointStyle: 'triangle',
          rotation: 180,
          pointRadius: 10,
          pointBackgroundColor: '#000',
          pointBorderColor: '#000',
          pointBorderWidth: 0,
          clip: false,
        },
      ],
    },
    options: {
      responsive: false,
      animation: false,
      devicePixelRatio: 1,
      events: [],
      layout: { padding: { top: 26, right: 33, left: 0, bottom: 0 } },
      plugins: { legend: { display: false }, tooltip: { enabled: false }, title: { display: false } },
      scales: {
        x: {
          type: 'logarithmic',
          position: 'bottom',
          min: 1,
          max: 1e9,
          afterBuildTicks: logTicks(C_X_TICKS),
          afterFit: (s) => { s.height = 75; },
          ticks: {
            autoSkip: false, maxRotation: 0, minRotation: 0, padding: 20, color: '#000',
            font: { family: SANS, size: 18.5 },
            callback: (_v, i) => C_X_LABELS[i],
          },
          grid: { drawOnChartArea: false, drawTicks: true, tickLength: -10, tickColor: '#000', tickWidth: 2 },
          border: { display: true, color: '#000', width: 2 },
          title: {
            display: true, text: 'Frequency (Hz)', color: '#000',
            font: { family: SANS, size: 25 },
            padding: { top: 0, bottom: 0 },
          },
        },
        y: {
          type: 'logarithmic',
          position: 'left',
          min: 1e-9,
          max: 10,
          afterBuildTicks: logTicks(C_Y_TICKS),
          afterFit: (s) => { s.width = 116; },
          ticks: {
            autoSkip: false, padding: 23, color: '#000',
            font: { family: SANS, size: 18.5 },
            callback: (_v, i) => C_Y_LABELS[i],
          },
          grid: { drawOnChartArea: false, drawTicks: true, tickLength: -10, tickColor: '#000', tickWidth: 2 },
          border: { display: true, color: '#000', width: 2 },
          title: { display: false },
        },
        x2: mirror('top', C_X_TICKS),
        y2: mirror('right', C_Y_TICKS),
      },
    },
    plugins: [
      overlay({
        notes: [
          { text: 'R', at: C_R_LABEL, font: `25px ${SANS}`, sup: '-1', supFont: `14px ${SANS}` },
          { text: 'ωC', at: C_WC_LABEL, font: `25px ${SANS}` },
          { text: 'Characteristic', at: C_CHAR_LABEL1, font: `32px ${SERIF}` },
          { text: 'frequency', at: C_CHAR_LABEL2, font: `32px ${SERIF}` },
        ],
        after: minorTicks,
        label: { text: '(c)', x: 12, y: 25 },
      }),
    ],
  };
}

function ChartCanvas({ build, top, height }) {
  const ref = useRef(null);
  useEffect(() => {
    const chart = new Chart(ref.current, build());
    return () => chart.destroy();
  }, [build]);
  return (
    <canvas
      ref={ref}
      width={896}
      height={height}
      style={{ position: 'absolute', left: 0, top, width: 896, height, display: 'block' }}
    />
  );
}

export default function App() {
  return (
    <div style={{ position: 'absolute', left: 0, top: 0, width: 896, height: 1696, background: '#fff', overflow: 'hidden' }}>
      <ChartCanvas build={buildPanelA} top={0} height={545} />
      <ChartCanvas build={buildPanelB} top={548} height={552} />
      <ChartCanvas build={buildPanelC} top={1100} height={596} />
    </div>
  );
}
